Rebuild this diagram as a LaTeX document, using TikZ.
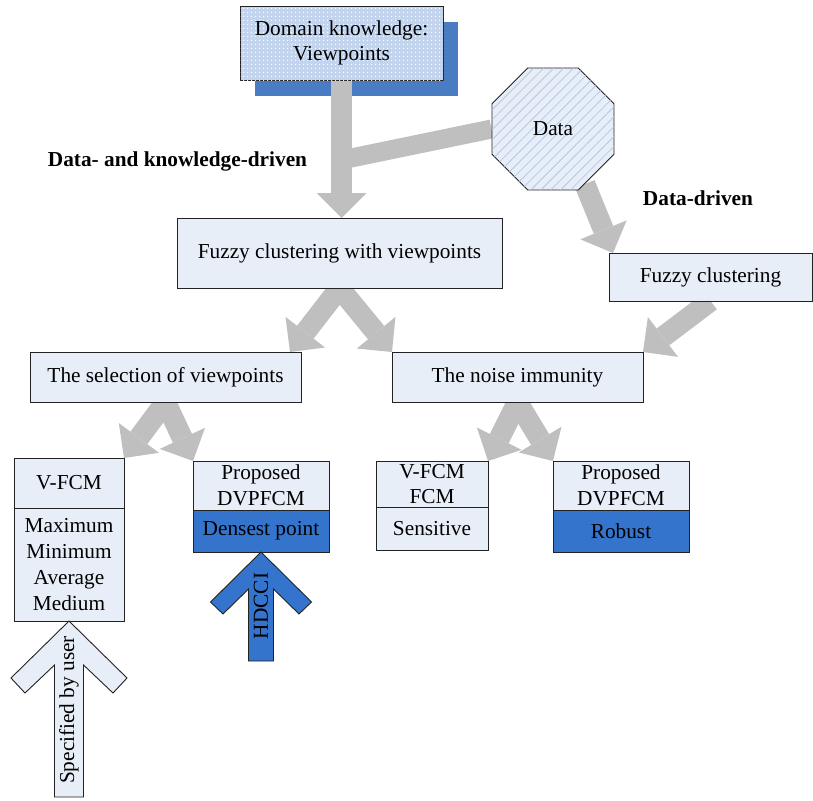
\documentclass[tikz,border=0pt]{standalone}
\usepackage{fontspec}
\setmainfont{Liberation Serif}
\usepackage{tikz}
\usetikzlibrary{positioning,arrows.meta,calc,backgrounds,shapes.geometric,patterns.meta}
\definecolor{paleblue}{HTML}{E8EEF8}
\definecolor{domainblue}{HTML}{C3D5EE}
\definecolor{shadowblue}{HTML}{4A7CC4}
\definecolor{deepblue}{HTML}{3574CC}
\definecolor{hatchblue}{HTML}{B4C8E6}
\definecolor{flowgray}{HTML}{BFBFBF}
\definecolor{edge}{HTML}{222222}
\tikzset{
  basebox/.style={draw=edge, line width=0.9pt, fill=paleblue, align=center, inner sep=0pt, outer sep=0pt, font=\fontsize{21.3pt}{25.7pt}\selectfont},
  lightbox/.style={basebox},
  darkbox/.style={basebox, fill=deepblue},
  domainbox/.style={basebox, fill=domainblue, postaction={pattern={Dots[distance=4pt,radius=0.8pt]}, pattern color=white}},
  dataoct/.style={regular polygon, regular polygon sides=8, minimum size=132pt, inner sep=0pt, draw=edge, line width=0.9pt, fill=paleblue, postaction={pattern={Lines[angle=45,distance=7pt,line width=0.8pt]}, pattern color=hatchblue}, font=\fontsize{21.3pt}{25.7pt}\selectfont},
  drivelabel/.style={inner sep=0pt, font=\fontsize{21.3pt}{25.7pt}\selectfont\bfseries},
  arrowtext/.style={inner sep=0pt, font=\fontsize{21.3pt}{25.7pt}\selectfont},
  flowarrow/.style={draw=flowgray, line width=21pt, -{Triangle[length=25pt,width=50pt,line width=0pt]}},
  branchline/.style={draw=flowgray, line width=19pt},
  userarrow/.style={draw=edge, line width=0.9pt, fill=paleblue},
  hdcciarrow/.style={draw=edge, line width=0.9pt, fill=deepblue}
}
\begin{document}
\begin{tikzpicture}[x=1pt,y=-1pt]
  \useasboundingbox (0,0) rectangle (813,800);
  % sources
  \node[domainbox, minimum width=203pt, minimum height=74pt] (domain) at (341.5,43) {Domain knowledge:\\Viewpoints};
  \node[dataoct] (data) at (553,129) {Data};
  \node[drivelabel] (kdlabel) at (177.5,161) {Data- and knowledge-driven};
  \node[drivelabel] (ddlabel) at (698,198) {Data-driven};
  % clustering
  \node[lightbox, minimum width=325pt, minimum height=70pt] (fcv) at (339.5,253) {Fuzzy clustering with viewpoints};
  \node[lightbox, minimum width=203pt, minimum height=48pt] (fc) at (710.5,277) {Fuzzy clustering};
  \node[lightbox, minimum width=271pt, minimum height=50pt] (select) at (165.5,377) {The selection of viewpoints};
  \node[lightbox, minimum width=251pt, minimum height=50pt] (noise) at (517.5,377) {The noise immunity};
  % results
  \node[lightbox, minimum width=110pt, minimum height=50pt] (vfcm) at (69,483) {V-FCM};
  \node[lightbox, below=0pt of vfcm, minimum width=110pt, minimum height=113pt] (rules) {Maximum\\Minimum\\Average\\Medium};
  \node[lightbox, minimum width=136pt, minimum height=49pt] (dvpsel) at (261,485.5) {Proposed\\DVPFCM};
  \node[darkbox, below=0pt of dvpsel, minimum width=136pt, minimum height=42pt] (densest) {Densest point};
  \node[lightbox, minimum width=112pt, minimum height=46pt] (fcmpair) at (432,484) {V-FCM\\FCM};
  \node[lightbox, below=0pt of fcmpair, minimum width=112pt, minimum height=43pt] (sensitive) {Sensitive};
  \node[lightbox, minimum width=136pt, minimum height=49pt] (dvpnoise) at (621,485.5) {Proposed\\DVPFCM};
  \node[darkbox, below=0pt of dvpnoise, minimum width=136pt, minimum height=42pt] (robust) {Robust};
  % block arrows
  \draw[userarrow] (rules.south) -- ++(-58,57) -- ++(14,15) -- ++(29.5,-28) -- ++(0,132) -- ++(29,0) -- ++(0,-132) -- ++(29.5,28) -- ++(14,-15) -- cycle;
  \node[arrowtext, rotate=90] (user) at ($(rules.south)+(0,89)$) {Specified by user};
  \draw[hdcciarrow] (densest.south) -- ++(-50.5,50) -- ++(12.5,12) -- ++(25.5,-25) -- ++(0,72) -- ++(25,0) -- ++(0,-72) -- ++(25.5,25) -- ++(12.5,-12) -- cycle;
  \node[arrowtext, rotate=90] (hdcci) at ($(densest.south)+(0,54)$) {HDCCI};
  % gray flow
  \begin{scope}[on background layer]
    \fill[shadowblue] ($(domain.north west)+(15,16)$) rectangle ($(domain.south east)+(15,16)$);
    \draw[branchline] (data.west) -- ($(domain.south)+(0,80)$);
    \draw[flowarrow] (domain.south) -- (domain.south |- fcv.north);
    \draw[flowarrow] (data.-60) -- ($(fc.north west)+(4,0)$);
    \draw[flowarrow] (fcv.south) -- ($(select.north east)+(-11,0)$);
    \draw[flowarrow] (fcv.south) -- (noise.north west);
    \draw[flowarrow] (fc.south) -- (noise.north east);
    \draw[flowarrow] (select.south) -- (vfcm.north east);
    \draw[flowarrow] (select.south) -- (dvpsel.north west);
    \draw[flowarrow] (noise.south) -- (fcmpair.north east);
    \draw[flowarrow] (noise.south) -- (dvpnoise.north west);
  \end{scope}
\end{tikzpicture}
\end{document}
